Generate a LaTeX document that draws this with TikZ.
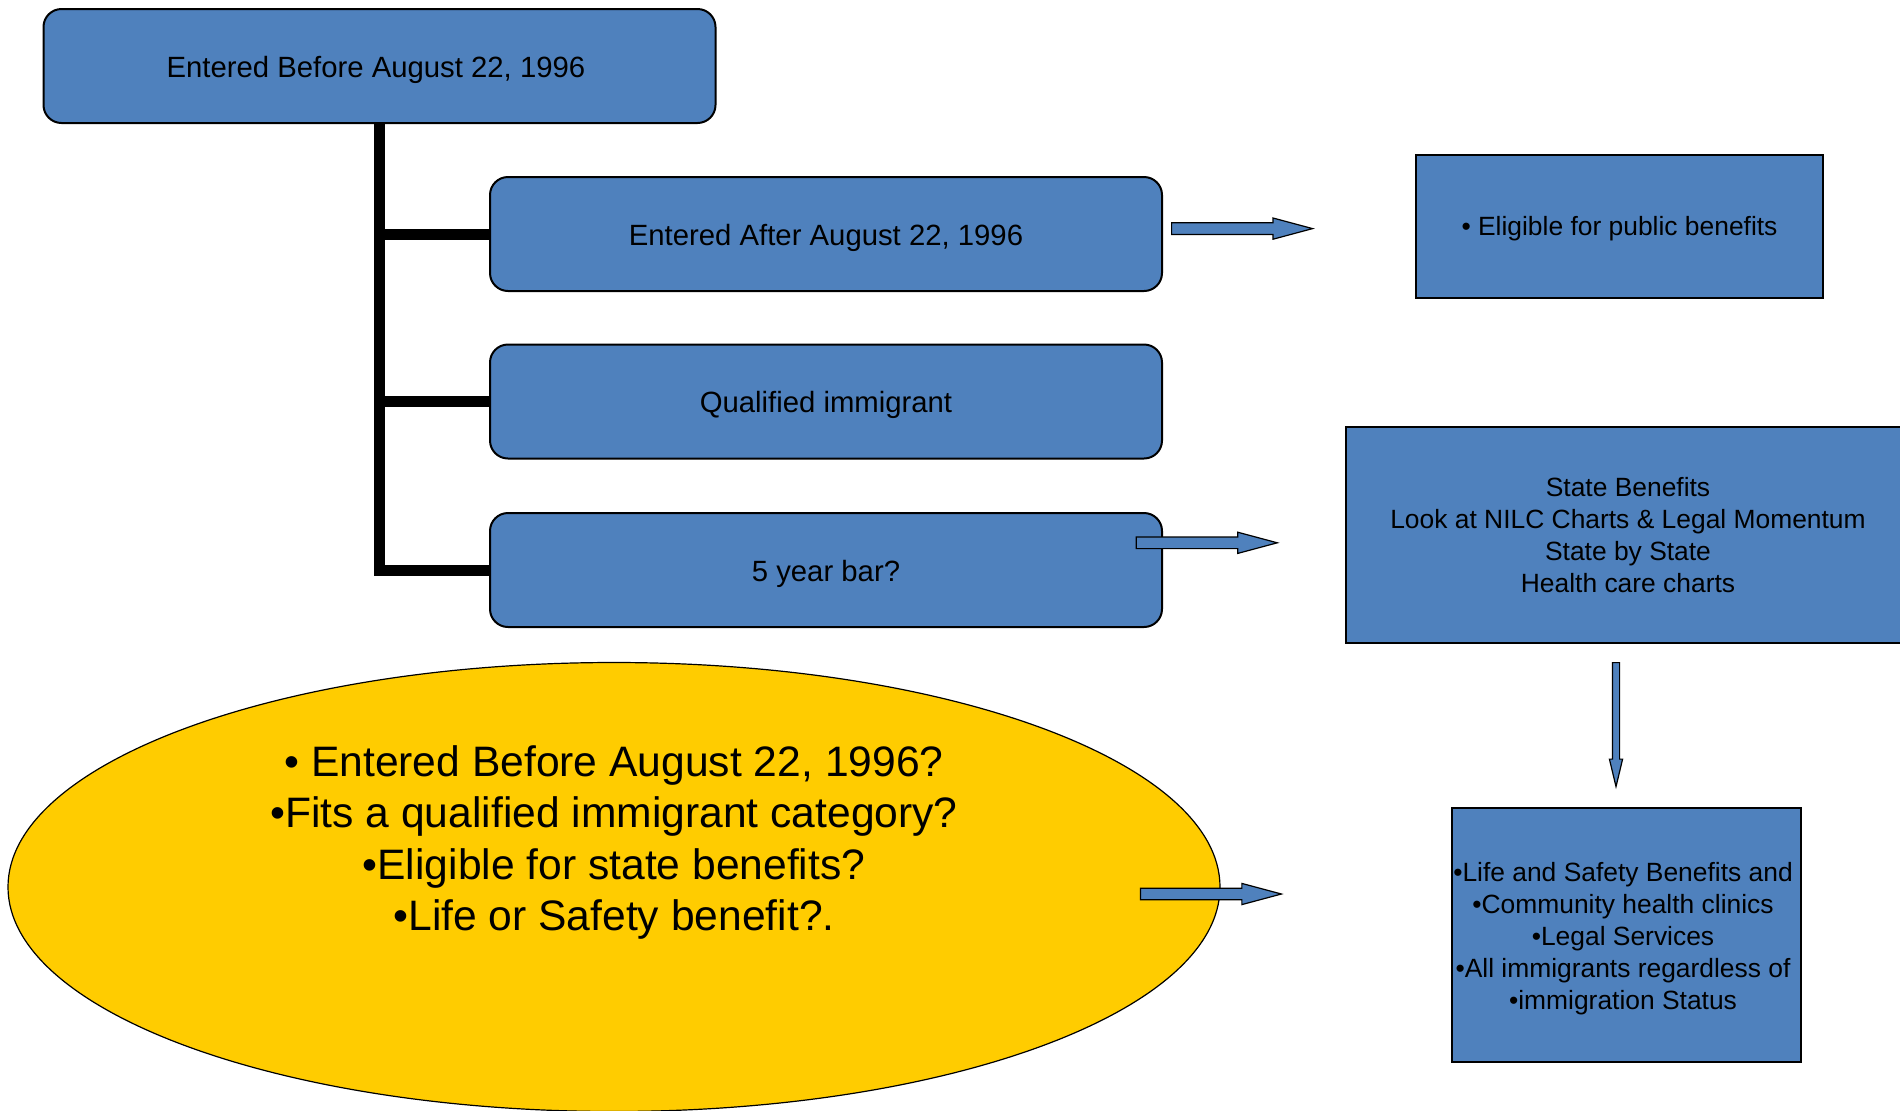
\documentclass[tikz,border=0pt]{standalone}
\usepackage{fontspec}
\setmainfont{Liberation Sans}
\usetikzlibrary{shapes.geometric,shapes.arrows}
\definecolor{boxblue}{HTML}{4F81BD}
\definecolor{ellyellow}{HTML}{FFCC00}
\begin{document}
\begin{tikzpicture}[x=0.5pt,y=-0.5pt,
  rbox/.style={draw=black, line width=1pt, fill=boxblue, rounded corners=9pt,
    minimum width=336pt, minimum height=57pt, inner sep=0pt,
    text height=11pt, text depth=0pt,
    font=\fontsize{14.65}{17}\selectfont},
  sbox/.style={draw=black, line width=1pt, fill=boxblue, inner sep=0pt,
    align=center, font=\fontsize{13.2}{16}\selectfont},
  branch/.style={line width=5.5pt, line join=miter, draw=black},
  blockarrow/.style={single arrow, draw=black, line width=0.6pt, fill=boxblue,
    inner sep=2.6pt, single arrow head extend=2.4pt, single arrow tip angle=30,
    minimum height=70.5pt, anchor=tail},
  ellnode/.style={ellipse, draw=black, line width=0.6pt, fill=ellyellow,
    inner sep=0pt, minimum width=606pt, minimum height=224.5pt},
  elltext/.style={align=center, inner sep=0pt, font=\fontsize{21.3}{25.75}\selectfont}
]
\useasboundingbox (0,0) rectangle (1900,1110);
\clip (0,0) rectangle (1900,1110);

% left tree
\node[rbox] (top) at (379.5,66) {Entered Before August 22, 1996\hspace*{3.6pt}};
\node[rbox] (c1) at (826,234) {Entered After August 22, 1996};
\node[rbox] (c2) at (826,401.5) {Qualified immigrant};
\node[rbox] (c3) at (826,570) {5 year bar?};

\draw[branch] (top.south) |- (c3.west);
\draw[branch] (top.south |- c1.west) -- (c1.west);
\draw[branch] (top.south |- c2.west) -- (c2.west);

% right boxes
\node[sbox, minimum width=203.5pt, minimum height=71.5pt] (elig) at (1619.5,226.5)
  {\raisebox{0pt}[9.2pt][0pt]{• Eligible for public benefits}};
\node[sbox, minimum width=282pt, minimum height=108pt] (state) at (1628,535)
  {State Benefits\\Look at NILC Charts \& Legal Momentum\\State by State\\Health care charts};
\node[sbox, minimum width=174.5pt, minimum height=127pt] (life) at (1626.5,935)
  {};
\node[align=center, inner sep=0pt, font=\fontsize{13.2}{16}\selectfont] (lifetxt) at (1623,938.5)
  {•Life and Safety Benefits and\\•Community health clinics\\•Legal Services\\•All immigrants regardless of\\•immigration Status};

% ellipse
\node[ellnode] (ell) at (614,887) {};
\node[elltext] (elltxt) at (614,842.5)
  {• Entered Before August 22, 1996?\\•Fits a qualified immigrant category?\\•Eligible for state benefits?\\•Life or Safety benefit?.};

% block arrows
\node[blockarrow] (a1) at (1171,228.6) {};
\node[blockarrow] (a2) at (1135.7,542.8) {};
\node[blockarrow] (a3) at (1139.8,894) {};
\node[blockarrow, shape border rotate=270, inner sep=1.5pt,
  single arrow head extend=1.5pt, single arrow tip angle=27,
  minimum height=62pt] (a4) at (1616,662) {};
\end{tikzpicture}
\end{document}
